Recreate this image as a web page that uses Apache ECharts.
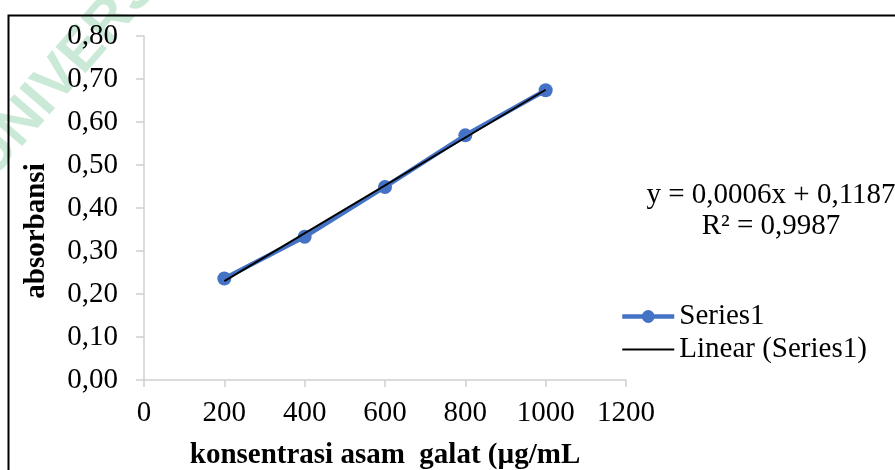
<!DOCTYPE html>
<html>
<head>
<meta charset="utf-8">
<script src="https://cdn.jsdelivr.net/npm/echarts@6/dist/echarts.min.js"></script>
<style>
html,body{margin:0;padding:0;background:#fff;}
#chart{width:895px;height:470px;}
</style>
</head>
<body>
<div id="chart"></div>
<script>
// ---- data ----
const concentrations = [200, 400, 600, 800, 1000];
const absorbance = [0.236, 0.333, 0.449, 0.569, 0.674];
const trendX = [200, 1000];
const trendY = [0.230, 0.675];
const seriesNames = ['Series1', 'Linear (Series1)'];
const equationLines = ['y = 0,0006x + 0,1187', 'R² = 0,9987'];
const xTitle = 'konsentrasi asam  galat (µg/mL';
const yTitle = 'absorbansi';
const watermarkText = 'UNIVERSITAS';

const serif = '"Liberation Serif", "Times New Roman", serif';
const FS = 29;

const chart = echarts.init(document.getElementById('chart'), null, {renderer: 'canvas'});
const option = {
  backgroundColor: '#ffffff',
  animation: false,
  grid: {left: 144, right: 269, top: 36, bottom: 90, containLabel: false, outerBoundsMode: 'none'},
  xAxis: {
    type: 'value', min: 0, max: 1200, interval: 200,
    name: xTitle, nameLocation: 'middle', nameGap: 61,
    nameTextStyle: {fontFamily: serif, fontSize: FS, fontWeight: 'bold', color: '#000'},
    axisLine: {show: true, lineStyle: {color: '#d0d0d0', width: 1.5}},
    axisTick: {show: true, inside: false, length: 7, lineStyle: {color: '#d0d0d0', width: 1.5}},
    splitLine: {show: false},
    axisLabel: {fontFamily: serif, fontSize: FS, color: '#000', margin: 19,
      formatter: v => String(v)}
  },
  yAxis: {
    type: 'value', min: 0, max: 0.8, interval: 0.1,
    axisLine: {show: true, lineStyle: {color: '#d0d0d0', width: 1.5}},
    axisTick: {show: true, inside: false, length: 8, lineStyle: {color: '#d0d0d0', width: 1.5}},
    splitLine: {show: false},
    axisLabel: {fontFamily: serif, fontSize: FS, color: '#000', margin: 26,
      formatter: v => v.toFixed(2).replace('.', ',')}
  },
  legend: {
    orient: 'vertical', left: 620, top: 302, padding: 0,
    itemWidth: 52, itemHeight: 16, itemGap: 4,
    textStyle: {fontFamily: serif, fontSize: FS, color: '#000'},
    data: [
      {name: seriesNames[0], lineStyle: {width: 4.5, color: '#4472C4'}},
      {name: seriesNames[1], itemStyle: {opacity: 0}, lineStyle: {width: 2, color: '#000'}}
    ]
  },
  series: [
    {
      name: seriesNames[0], type: 'line',
      data: concentrations.map((x, i) => [x, absorbance[i]]),
      symbol: 'circle', symbolSize: 14,
      itemStyle: {color: '#4472C4'},
      lineStyle: {color: '#4472C4', width: 4.5},
      z: 2
    },
    {
      name: seriesNames[1], type: 'line',
      data: trendX.map((x, i) => [x, trendY[i]]),
      symbol: 'none',
      itemStyle: {color: '#000'},
      lineStyle: {color: '#000', width: 2},
      z: 3
    }
  ],
  graphic: [
    {
      type: 'text', x: -20, y: 170, rotation: 49 * Math.PI / 180, z: -10, silent: true,
      style: {text: watermarkText, fill: '#cbe9d7', font: 'bold 58px "Liberation Sans", Arial, sans-serif',
        align: 'left', verticalAlign: 'middle'}
    },
    {
      type: 'rect', z: 100, silent: true,
      shape: {x: 8.5, y: 15.5, width: 1000, height: 1000},
      style: {fill: 'none', stroke: '#000', lineWidth: 2}
    },
    {
      type: 'text', x: 37, y: 231, rotation: Math.PI / 2, z: 10,
      style: {text: yTitle, fill: '#000', font: 'bold ' + FS + 'px ' + serif, align: 'center', verticalAlign: 'middle'}
    },
    {
      type: 'text', x: 771, y: 195, z: 10,
      style: {text: equationLines[0], fill: '#000', font: FS + 'px ' + serif, align: 'center', verticalAlign: 'middle'}
    },
    {
      type: 'text', x: 771, y: 226, z: 10,
      style: {text: equationLines[1], fill: '#000', font: FS + 'px ' + serif, align: 'center', verticalAlign: 'middle'}
    }
  ]
};
chart.setOption(option);
</script>
</body>
</html>
